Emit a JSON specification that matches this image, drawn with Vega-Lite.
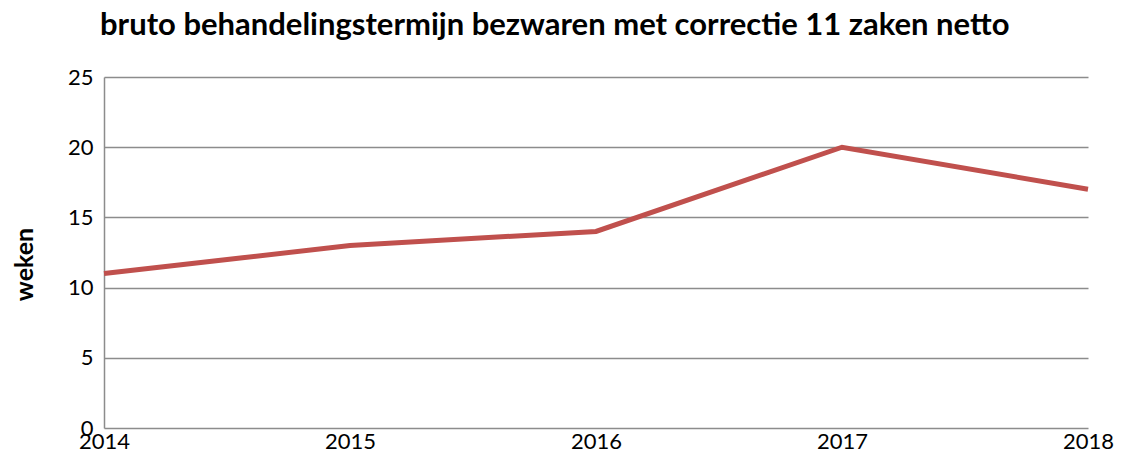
{
  "$schema": "https://vega.github.io/schema/vega-lite/v6.json",
  "autosize": "none",
  "width": 984,
  "height": 351,
  "padding": {"left": 104, "top": 77, "right": 35, "bottom": 29},
  "background": "white",
  "title": {
    "text": "bruto behandelingstermijn bezwaren met correctie 11 zaken netto",
    "font": "Lato",
    "fontSize": 31,
    "fontWeight": "bold",
    "color": "#000000",
    "anchor": "start",
    "frame": "group",
    "dx": -4,
    "offset": 24
  },
  "data": {
    "values": [
      {"jaar": 2014, "weken": 11},
      {"jaar": 2015, "weken": 13},
      {"jaar": 2016, "weken": 14},
      {"jaar": 2017, "weken": 20},
      {"jaar": 2018, "weken": 17}
    ]
  },
  "config": {
    "view": {"stroke": null},
    "axis": {"labelFont": "Lato", "titleFont": "Lato", "labelColor": "#000000", "titleColor": "#000000"}
  },
  "mark": {"type": "line", "color": "#C0504D", "strokeWidth": 5, "strokeCap": "butt"},
  "encoding": {
    "x": {
      "field": "jaar",
      "type": "quantitative",
      "scale": {"domain": [2014, 2018], "nice": false, "zero": false},
      "axis": {
        "values": [2014, 2015, 2016, 2017, 2018],
        "format": "d",
        "title": null,
        "grid": false,
        "domain": false,
        "ticks": false,
        "labelFontSize": 22,
        "labelPadding": 3,
        "labelFlush": false
      }
    },
    "y": {
      "field": "weken",
      "type": "quantitative",
      "scale": {"domain": [0, 25], "nice": false},
      "axis": {
        "values": [0, 5, 10, 15, 20, 25],
        "title": "weken",
        "titleFont": "Lato",
        "titleFontSize": 25,
        "titleFontWeight": "bold",
        "titlePadding": 30,
        "titleY": 187,
        "labelFontSize": 22,
        "labelPadding": 11,
        "ticks": false,
        "domain": true,
        "domainColor": "#8c8c8c",
        "domainWidth": 1.5,
        "grid": true,
        "gridColor": "#8c8c8c",
        "gridWidth": 1.5,
        "gridOpacity": 1
      }
    }
  }
}
